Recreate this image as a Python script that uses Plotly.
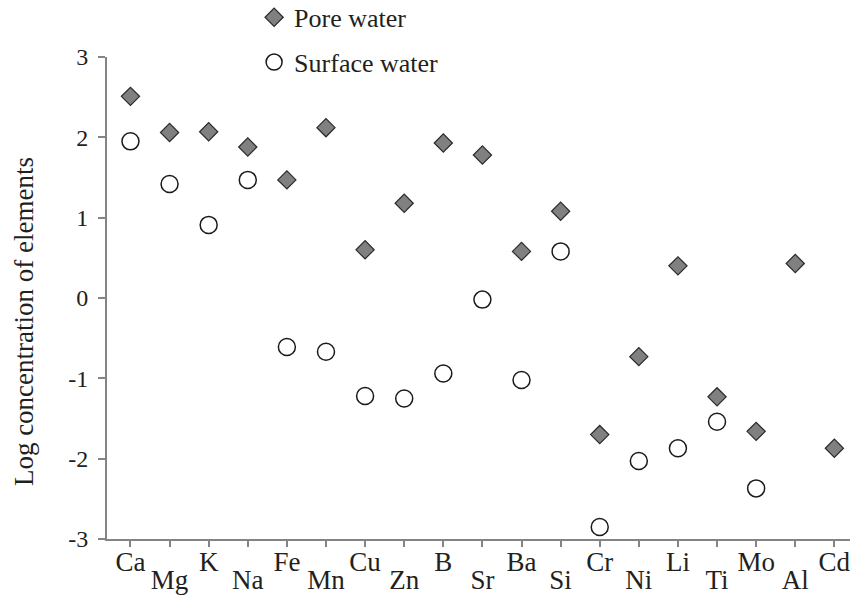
import plotly.graph_objects as go

elements = ["Ca", "Mg", "K", "Na", "Fe", "Mn", "Cu", "Zn", "B", "Sr",
            "Ba", "Si", "Cr", "Ni", "Li", "Ti", "Mo", "Al", "Cd"]
pore_water = [2.51, 2.06, 2.07, 1.88, 1.47, 2.12, 0.60, 1.18, 1.93, 1.78,
              0.58, 1.08, -1.70, -0.73, 0.40, -1.23, -1.66, 0.43, -1.87]
surface_water = [1.95, 1.42, 0.91, 1.47, -0.61, -0.67, -1.22, -1.25, -0.94, -0.02,
                 -1.02, 0.58, -2.85, -2.03, -1.87, -1.54, -2.37, None, None]
y_ticks = [-3, -2, -1, 0, 1, 2, 3]
y_title = "Log concentration of elements"

idx = list(range(len(elements)))
odd_idx = [i for i in idx if i % 2 == 1]

FONT = "Liberation Serif, Times New Roman, serif"
TXT = "#231f20"
AX = "#848484"

fig = go.Figure()
fig.add_trace(go.Scatter(
    x=idx, y=pore_water, mode="markers", name="Pore water",
    legendgroup="a",
    marker=dict(symbol="diamond", size=14, color="#808080",
                line=dict(color="#2a2a2a", width=1.2)),
))
fig.add_trace(go.Scatter(
    x=idx, y=surface_water, mode="markers", name="Surface water",
    legendgroup="b", xaxis="x2",
    marker=dict(symbol="circle", size=17, color="white",
                line=dict(color="#1a1a1a", width=1.5)),
))

fig.update_layout(
    width=850, height=596,
    margin=dict(l=107, r=0, t=57, b=57, autoexpand=False),
    paper_bgcolor="white", plot_bgcolor="white",
    font=dict(family=FONT, color=TXT, size=24),
    showlegend=True,
    legend=dict(x=0.198, xanchor="left", y=1.131, yanchor="top",
                font=dict(size=26, family=FONT, color=TXT),
                tracegroupgap=8, bgcolor="rgba(0,0,0,0)", itemwidth=30),
    xaxis=dict(
        range=[-0.6, 18.4], tickmode="array", tickvals=idx,
        ticktext=[e if i % 2 == 0 else "" for i, e in enumerate(elements)],
        ticks="outside", ticklen=6, tickwidth=1.5, tickcolor=AX,
        showline=True, linecolor=AX, linewidth=2,
        showgrid=False, zeroline=False, automargin=False,
        tickfont=dict(size=27, family=FONT, color=TXT),
        ticklabelstandoff=-8, ticklabeloverflow="allow",
    ),
    xaxis2=dict(
        overlaying="x", matches="x", anchor="y", side="bottom",
        range=[-0.6, 18.4], tickmode="array", tickvals=odd_idx,
        ticktext=[elements[i] for i in odd_idx],
        ticks="", showline=False, showgrid=False, zeroline=False,
        automargin=False,
        tickfont=dict(size=27, family=FONT, color=TXT),
        ticklabelstandoff=22, ticklabeloverflow="allow",
    ),
    yaxis=dict(
        range=[-3, 3], tickmode="array", tickvals=y_ticks,
        ticktext=[str(v) for v in y_ticks],
        ticks="outside", ticklen=7, tickwidth=1.5, tickcolor=AX,
        showline=True, linecolor=AX, linewidth=2,
        showgrid=False, zeroline=False, automargin=False,
        tickfont=dict(size=24, family=FONT, color=TXT),
        ticklabelstandoff=5,
    ),
    annotations=[dict(
        text=y_title, textangle=-90, showarrow=False,
        xref="paper", yref="paper", x=-0.1117, y=0.450,
        xanchor="center", yanchor="middle",
        font=dict(size=27, family=FONT, color=TXT),
    )],
)

# remove the default 8px page margin so the 850x596 figure fills the window
fig.write_html(
    "out.html",
    config={"displayModeBar": False},
    post_script="document.body.style.margin='0px';"
                "document.body.style.overflow='hidden';",
)
